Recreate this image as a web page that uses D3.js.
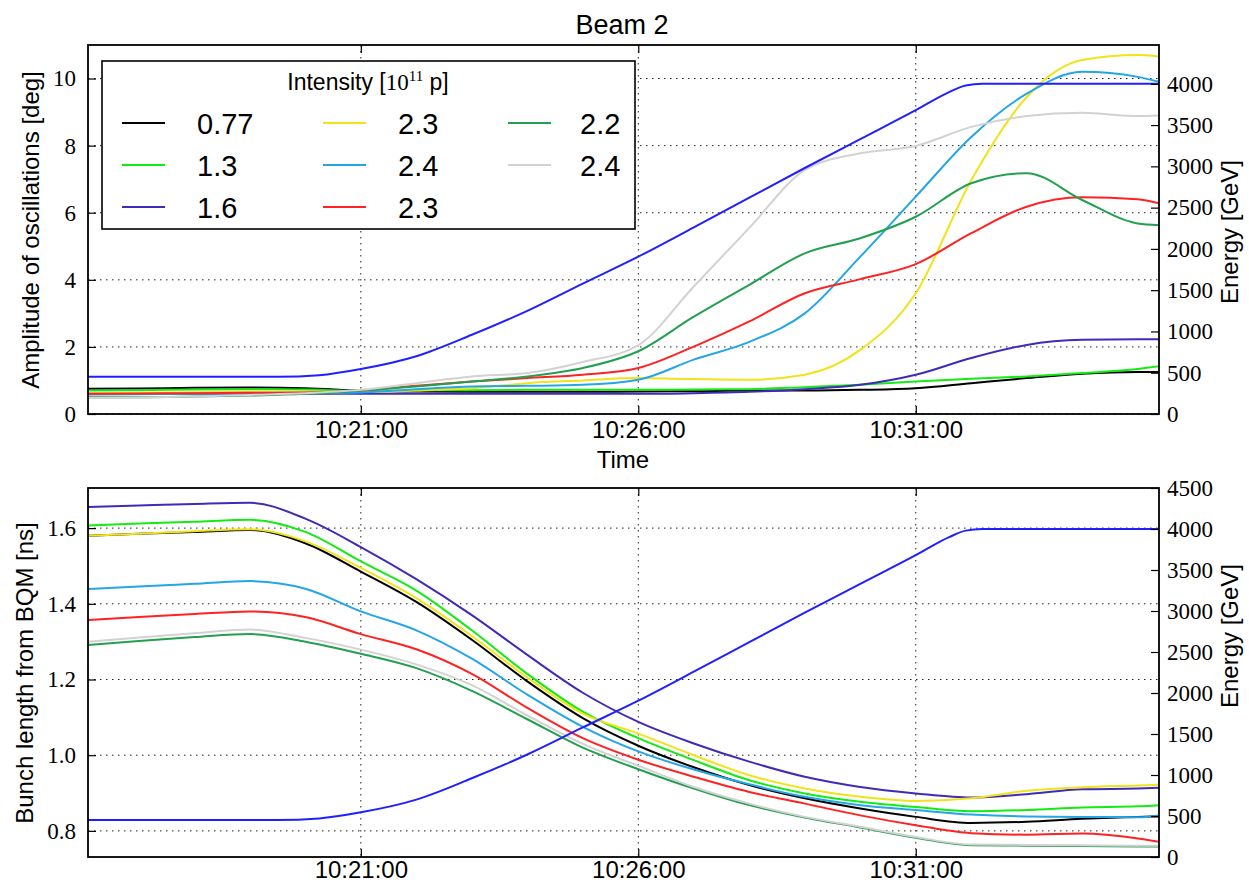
<!DOCTYPE html>
<html>
<head>
<meta charset="utf-8">
<script src="https://cdn.jsdelivr.net/npm/d3@7"></script>
<style>
  body { margin: 0; background: #fff; }
  svg { display: block; }
  text { font-family: "Liberation Sans", Arial, sans-serif; fill: #000; }
  .num text, text.num { font-family: "Liberation Serif", "Times New Roman", serif; }
</style>
</head>
<body>
<div id="chart"></div>
<script>
// sample times shared by all beam curves
const times = ["10:16:05", "10:17:00", "10:18:00", "10:19:00", "10:20:00", "10:21:00", "10:22:00",
  "10:23:00", "10:24:00", "10:25:00", "10:26:00", "10:27:00", "10:28:00", "10:29:00", "10:30:00",
  "10:31:00", "10:32:00", "10:33:00", "10:34:00", "10:35:00", "10:35:23"];

const intensities = ["0.77", "1.3", "1.6", "2.3", "2.4", "2.3", "2.2", "2.4"];
const colors = ["#000000", "#12ec12", "#3f2bb8", "#f2e21a", "#22a6e8", "#ff2222", "#23a04f", "#d2d2d2"];

// amplitude of oscillations [deg]
const amp_077 = [0.75, 0.76, 0.78, 0.79, 0.77, 0.70, 0.67, 0.66, 0.66, 0.66, 0.67, 0.68, 0.70, 0.70, 0.72, 0.77, 0.92, 1.07, 1.20, 1.25, 1.25];
const amp_13 = [0.70, 0.71, 0.73, 0.74, 0.73, 0.68, 0.70, 0.71, 0.72, 0.72, 0.72, 0.73, 0.74, 0.80, 0.87, 0.97, 1.05, 1.12, 1.22, 1.34, 1.42];
const amp_16 = [0.60, 0.60, 0.60, 0.60, 0.60, 0.60, 0.60, 0.60, 0.60, 0.60, 0.60, 0.62, 0.66, 0.74, 0.87, 1.17, 1.67, 2.06, 2.21, 2.23, 2.23];
const amp_23a = [0.62, 0.63, 0.65, 0.66, 0.66, 0.66, 0.70, 0.77, 0.92, 1.00, 1.07, 1.04, 1.02, 1.17, 1.91, 3.60, 6.97, 9.45, 10.55, 10.70, 10.66];
const amp_24a = [0.58, 0.59, 0.60, 0.61, 0.62, 0.64, 0.74, 0.82, 0.84, 0.87, 1.02, 1.62, 2.15, 3.00, 4.69, 6.48, 8.26, 9.55, 10.20, 10.05, 9.90];
const amp_23b = [0.60, 0.61, 0.62, 0.63, 0.64, 0.70, 0.84, 0.97, 1.07, 1.17, 1.37, 2.01, 2.76, 3.60, 4.02, 4.47, 5.39, 6.18, 6.46, 6.40, 6.28];
const amp_22 = [0.50, 0.50, 0.52, 0.55, 0.60, 0.70, 0.82, 0.97, 1.12, 1.37, 1.87, 2.90, 3.85, 4.79, 5.24, 5.88, 6.88, 7.18, 6.38, 5.68, 5.63];
const amp_24b = [0.48, 0.49, 0.52, 0.57, 0.62, 0.72, 0.92, 1.12, 1.22, 1.55, 2.05, 3.80, 5.55, 7.27, 7.77, 7.99, 8.56, 8.88, 8.98, 8.88, 8.90];

// bunch length from BQM [ns]
const len_077 = [1.580, 1.585, 1.590, 1.595, 1.560, 1.485, 1.405, 1.305, 1.195, 1.098, 1.025, 0.968, 0.921, 0.886, 0.859, 0.837, 0.821, 0.824, 0.832, 0.837, 0.838];
const len_13 = [1.607, 1.612, 1.617, 1.622, 1.590, 1.512, 1.435, 1.330, 1.215, 1.115, 1.045, 0.987, 0.934, 0.899, 0.877, 0.863, 0.852, 0.855, 0.862, 0.865, 0.868];
const len_16 = [1.656, 1.660, 1.664, 1.667, 1.625, 1.550, 1.465, 1.370, 1.265, 1.165, 1.088, 1.031, 0.983, 0.943, 0.916, 0.899, 0.888, 0.897, 0.910, 0.912, 0.914];
const len_23a = [1.580, 1.585, 1.592, 1.597, 1.565, 1.495, 1.415, 1.315, 1.205, 1.110, 1.057, 1.000, 0.947, 0.912, 0.890, 0.879, 0.886, 0.906, 0.915, 0.920, 0.922];
const len_24a = [1.439, 1.446, 1.453, 1.460, 1.440, 1.380, 1.330, 1.255, 1.160, 1.075, 1.010, 0.962, 0.923, 0.890, 0.868, 0.855, 0.843, 0.838, 0.837, 0.836, 0.841];
const len_23b = [1.357, 1.365, 1.373, 1.380, 1.365, 1.320, 1.280, 1.215, 1.125, 1.045, 0.988, 0.943, 0.903, 0.872, 0.841, 0.815, 0.794, 0.790, 0.793, 0.780, 0.771];
const len_22 = [1.291, 1.302, 1.312, 1.320, 1.300, 1.268, 1.230, 1.170, 1.095, 1.020, 0.963, 0.912, 0.868, 0.835, 0.809, 0.782, 0.762, 0.761, 0.760, 0.759, 0.759];
const len_24b = [1.300, 1.311, 1.322, 1.332, 1.310, 1.279, 1.240, 1.185, 1.105, 1.030, 0.972, 0.916, 0.872, 0.837, 0.811, 0.784, 0.764, 0.763, 0.762, 0.761, 0.761];

// beam energy [GeV]
const energyTimes = ["10:16:05", "10:19:30", "10:20:15", "10:21:00", "10:22:00", "10:23:00", "10:24:00",
  "10:25:00", "10:26:00", "10:27:00", "10:28:00", "10:29:00", "10:30:00", "10:31:00", "10:31:36",
  "10:31:54", "10:32:12", "10:35:23"];
const energy = [450, 450, 470, 545, 700, 960, 1250, 1580, 1906, 2260, 2620, 2980, 3330, 3680, 3900, 3980, 4000, 4000];

const timeTicks = ["10:21:00", "10:26:00", "10:31:00"];
const ampTicks = [0, 2, 4, 6, 8, 10];
const lenTicks = [0.8, 1.0, 1.2, 1.4, 1.6];
const energyTicksTop = [0, 500, 1000, 1500, 2000, 2500, 3000, 3500, 4000];
const energyTicksBottom = [0, 500, 1000, 1500, 2000, 2500, 3000, 3500, 4000, 4500];

const W = 1249, H = 884;
const left = 88, right = 1159;
const parse = d3.timeParse("%H:%M:%S");
const fmtTime = d3.timeFormat("%H:%M:%S");

const svg = d3.select("#chart").append("svg").attr("width", W).attr("height", H);

const x = d3.scaleTime()
  .domain(d3.extent(times, t => parse(t)))
  .range([left, right]);

svg.append("text")
  .attr("x", 622).attr("y", 34)
  .attr("text-anchor", "middle")
  .style("font-size", "27px")
  .text("Beam 2");

function panel(opt) {
  const g = svg.append("g");
  const y = d3.scaleLinear().domain(opt.yDomain).range([opt.bottom, opt.top]);
  const e = d3.scaleLinear().domain(opt.eDomain).range([opt.bottom, opt.top]);

  const clipId = "clip" + opt.id;
  svg.append("clipPath").attr("id", clipId)
    .append("rect")
    .attr("x", left).attr("y", opt.top)
    .attr("width", right - left).attr("height", opt.bottom - opt.top);

  // grid from the primary axes
  const grid = g.append("g").attr("stroke", "#222").attr("stroke-width", 1)
    .attr("stroke-dasharray", "1.5,4.5");
  grid.selectAll(".gx").data(timeTicks).enter().append("line")
    .attr("x1", d => x(parse(d))).attr("x2", d => x(parse(d)))
    .attr("y1", opt.top).attr("y2", opt.bottom);
  grid.selectAll(".gy").data(opt.yTicks).enter().append("line")
    .attr("x1", left).attr("x2", right)
    .attr("y1", d => y(d)).attr("y2", d => y(d));

  const line = d3.line()
    .x((d, i) => x(parse(times[i])))
    .y(d => y(d))
    .curve(d3.curveMonotoneX);

  const lines = g.append("g").attr("clip-path", "url(#" + clipId + ")");
  lines.selectAll("path.s")
    .data(opt.series)
    .enter().append("path")
    .attr("class", "s")
    .attr("fill", "none")
    .attr("stroke", (d, i) => colors[i])
    .attr("stroke-width", 2)
    .attr("d", d => line(d));

  const eLine = d3.line()
    .x((d, i) => x(parse(energyTimes[i])))
    .y(d => e(d))
    .curve(d3.curveMonotoneX);
  lines.append("path")
    .attr("fill", "none")
    .attr("stroke", "#2020ff")
    .attr("stroke-width", 2)
    .attr("d", eLine(energy));

  // axes, ticks pointing inwards
  const xb = g.append("g").attr("transform", `translate(0,${opt.bottom})`)
    .call(d3.axisBottom(x).tickValues(timeTicks.map(parse)).tickFormat(fmtTime)
      .tickSize(-8).tickPadding(opt.xPad));
  xb.selectAll("text").style("font-size", "24px");
  g.append("g").attr("transform", `translate(0,${opt.top})`)
    .call(d3.axisTop(x).tickValues(timeTicks.map(parse)).tickFormat("").tickSize(-8));

  const yl = g.append("g").attr("class", "num").attr("transform", `translate(${left},0)`)
    .call(d3.axisLeft(y).tickValues(opt.yTicks).tickFormat(opt.yFmt).tickSize(-8).tickPadding(12));
  yl.selectAll("text").style("font-size", "23px");

  const yr = g.append("g").attr("class", "num").attr("transform", `translate(${right},0)`)
    .call(d3.axisRight(e).tickValues(opt.eTicks).tickFormat(d3.format("d")).tickSize(-8).tickPadding(8));
  yr.selectAll("text").style("font-size", "23px");

  g.selectAll(".domain").remove();
  g.selectAll(".tick line").attr("stroke", "#000").attr("stroke-width", 1.2);

  g.append("rect")
    .attr("x", left).attr("y", opt.top)
    .attr("width", right - left).attr("height", opt.bottom - opt.top)
    .attr("fill", "none").attr("stroke", "#000").attr("stroke-width", 1.8);

  g.append("text")
    .attr("transform", `translate(${opt.yLabelX},${opt.yLabelY}) rotate(-90)`)
    .attr("text-anchor", "middle")
    .style("font-size", "24px")
    .text(opt.yLabel);
  g.append("text")
    .attr("transform", `translate(1238,${opt.eLabelY}) rotate(-90)`)
    .attr("text-anchor", "middle")
    .style("font-size", "24px")
    .text("Energy [GeV]");

  return g;
}

panel({
  id: 1, top: 45, bottom: 414, xPad: 7,
  yDomain: [0, 11], yTicks: ampTicks, yFmt: d3.format("d"),
  eDomain: [0, 4470], eTicks: energyTicksTop,
  series: [amp_077, amp_13, amp_16, amp_23a, amp_24a, amp_23b, amp_22, amp_24b],
  yLabel: "Amplitude of oscillations [deg]", yLabelX: 39, yLabelY: 230, eLabelY: 232
});

svg.append("text")
  .attr("x", 623).attr("y", 468)
  .attr("text-anchor", "middle")
  .style("font-size", "24px")
  .text("Time");

panel({
  id: 2, top: 488, bottom: 857, xPad: 4,
  yDomain: [0.731, 1.706], yTicks: lenTicks, yFmt: d3.format(".1f"),
  eDomain: [0, 4500], eTicks: energyTicksBottom,
  series: [len_077, len_13, len_16, len_23a, len_24a, len_23b, len_22, len_24b],
  yLabel: "Bunch length from BQM [ns]", yLabelX: 33, yLabelY: 673, eLabelY: 636
});

// legend, three columns filled top to bottom
const leg = svg.append("g");
leg.append("rect")
  .attr("x", 102).attr("y", 61).attr("width", 533).attr("height", 168)
  .attr("fill", "#fff").attr("stroke", "#000").attr("stroke-width", 1.6);

const lt = leg.append("text").attr("x", 368).attr("y", 90).attr("text-anchor", "middle")
  .style("font-size", "23px");
lt.append("tspan").text("Intensity [");
lt.append("tspan").style("font-family", "'Liberation Serif', serif").text("10");
lt.append("tspan").style("font-family", "'Liberation Serif', serif").style("font-size", "15px")
  .attr("dy", -9).text("11");
lt.append("tspan").attr("dy", 9).text(" p]");

const colX = [122, 323, 508];
const labX = [197, 398, 580];
const rowY = [123, 165, 207];
const items = intensities.map((v, i) => ({ v, i, col: Math.floor(i / 3), row: i % 3 }));
const it = leg.selectAll("g.item").data(items).enter().append("g").attr("class", "item");
it.append("line")
  .attr("x1", d => colX[d.col]).attr("x2", d => colX[d.col] + 43)
  .attr("y1", d => rowY[d.row]).attr("y2", d => rowY[d.row])
  .attr("stroke", d => colors[d.i]).attr("stroke-width", 2);
it.append("text")
  .attr("x", d => labX[d.col]).attr("y", d => rowY[d.row] + 10.5)
  .style("font-size", "29px")
  .text(d => d.v);
</script>
</body>
</html>
